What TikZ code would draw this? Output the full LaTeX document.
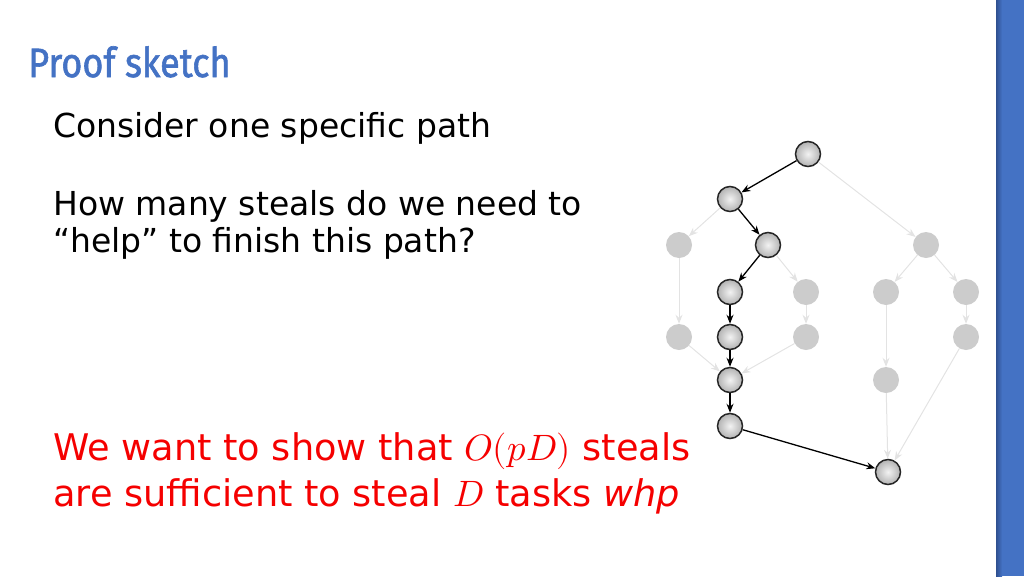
\documentclass[tikz,border=0pt]{standalone}
\usepackage{fontspec}
\usepackage{unicode-math}
\setmainfont{DejaVu Sans}
\setmathfont{Latin Modern Math}
\newfontfamily\titlefont{Fira Sans}[FakeBold=1.6]
\usetikzlibrary{arrows.meta}
\definecolor{slideblue}{HTML}{4472C4}
\definecolor{slidedark}{HTML}{2F4F8F}
\definecolor{slidered}{HTML}{F50000}

\begin{document}
\begin{tikzpicture}[x=1pt, y=-1pt, >={Stealth[length=9pt,width=7pt]},
    task/.style={ circle, draw=black!85, line width=1.5pt, inner
    color=gray!10, outer color=gray!60, minimum size=25pt, inner
    sep=0pt }, idle/.style={ circle, fill=gray!40, minimum size=26pt,
    inner sep=0pt }, onpath/.style={ ->, line width=1.3pt, black },
    offpath/.style={ ->, line width=1pt, gray!22 }, txt/.style={
    anchor=base west, inner sep=0pt } ]
  \useasboundingbox (0,0) rectangle (1024,576);
  \fill[slideblue] (996,0) rectangle (1024,576);
  \shade[left color=slidedark, right color=slideblue] (996,0) rectangle (1002,576);
  % the texts
  \node[txt, text=slideblue] (title) at (28,77)
    {\scalebox{0.88}[1]{\titlefont\fontsize{41}{44}\selectfont Proof sketch}};
  \node[txt] (line1) at (53,137) {\fontsize{33}{37}\selectfont Consider one specific path};
  \node[txt] (line2) at (53,215) {\fontsize{33}{37}\selectfont How many steals do we need to};
  \node[txt] (line3) at (53,252) {\fontsize{33}{37}\selectfont “help” to finish this path?};
  \node[txt, text=slidered] (claim1) at (53,460)
    {\fontsize{36.7}{46}\selectfont We want to show that $O(pD)$ steals};
  \node[txt, text=slidered] (claim2) at (53,506)
    {\fontsize{36.7}{46}\selectfont are sufficient to steal $D$ tasks \textit{whp}};
  % the DAG
  \foreach \x/\y/\n in {679/245/1,926/245/2,806/292/3,886/292/4,966/292/5,
    679/337/6,806/337/7,966/337/8,886/380/9}
  \node[idle] (g\n) at (\x,\y) {};
  \foreach \x/\y/\n in {808/154/1,730/199/2,768/245/3,730/292/4,730/337/5,
    730/380/6,730/426/7,888/472/8}
  \node[task] (p\n) at (\x,\y) {};
  \foreach \a/\b in {p1/g2,p2/g1,p3/g3,g1/g6,g3/g7,g6/p6,g7/p6,g2/g4,
    g2/g5,g4/g9,g5/g8,g9/p8,g8/p8}
  \draw[offpath] (\a) -- (\b);
  \foreach \a/\b in {p1/p2,p2/p3,p3/p4,p4/p5,p5/p6,p6/p7,p7/p8}
  \draw[onpath] (\a) -- (\b);
\end{tikzpicture}
\end{document}
